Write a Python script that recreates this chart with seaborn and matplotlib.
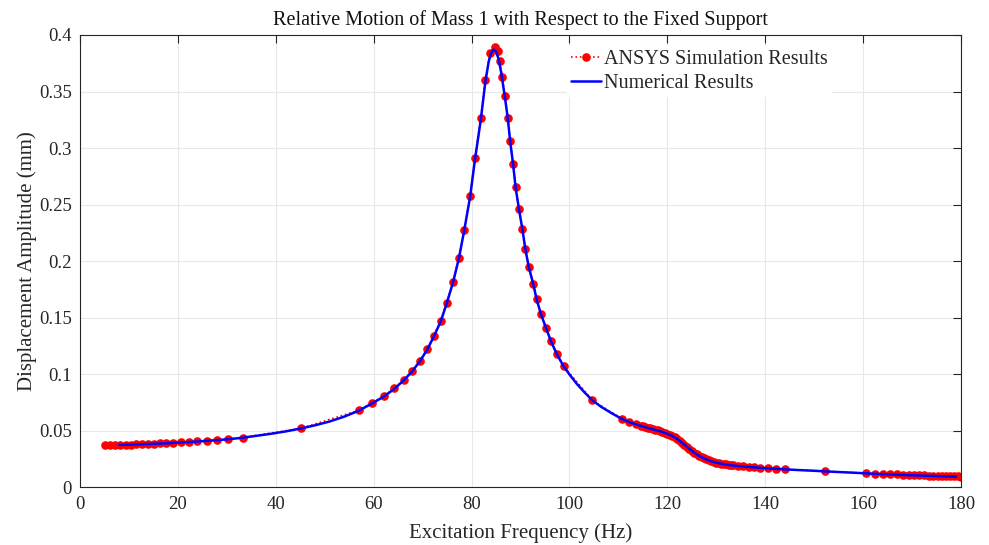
import matplotlib
matplotlib.use("Agg")
import matplotlib.pyplot as plt
import seaborn as sns
import pandas as pd

# ANSYS harmonic response of mass 1 (frequency in Hz, amplitude in mm)
ansys_freq = [
    5.1, 6.1, 7.2, 8.2, 9.3, 10.4, 11.4, 12.6, 13.8, 15.1, 16.3, 17.6, 19.1, 20.6,
    22.3, 24.0, 25.9, 27.9, 30.3, 33.2, 45.1, 56.9, 59.6, 62.1, 64.2, 66.1, 67.8,
    69.4, 70.9, 72.3, 73.7, 74.9, 76.2, 77.4, 78.5, 79.7, 80.7, 81.9, 82.8, 83.8,
    84.8, 85.3, 85.8, 86.3, 86.8, 87.4, 87.9, 88.5, 89.0, 89.7, 90.4, 91.0, 91.7,
    92.6, 93.3, 94.2, 95.2, 96.2, 97.4, 98.8, 104.7, 110.7, 112.2, 113.5, 114.6,
    115.0, 115.5, 116.0, 116.5, 117.0, 117.5, 118.0, 118.5, 119.0, 119.5, 120.0,
    120.5, 121.0, 121.5, 122.0, 122.5, 123.0, 123.5, 124.0, 124.5, 125.0, 125.5,
    126.0, 126.5, 127.0, 127.5, 128.0, 128.5, 129.0, 129.5, 130.0, 130.5, 131.0,
    131.5, 132.0, 132.5, 133.0, 133.5, 134.5, 135.5, 136.6, 137.7, 139.0, 140.5,
    142.2, 144.1, 152.3, 160.5, 162.4, 164.1, 165.5, 166.9, 168.1, 169.3, 170.4,
    171.4, 172.4, 173.4, 174.3, 175.2, 176.1, 177.0, 177.8, 178.6, 179.4, 180.0,
]
ansys_amp = [
    0.0374, 0.0374, 0.0375, 0.0376, 0.0377, 0.0378, 0.0379, 0.0381, 0.0383, 0.0385,
    0.0388, 0.0391, 0.0394, 0.0398, 0.0401, 0.0406, 0.0410, 0.0416, 0.0425, 0.0440,
    0.0521, 0.0680, 0.0745, 0.0807, 0.0875, 0.0948, 0.1027, 0.1118, 0.1219, 0.1341,
    0.1472, 0.1630, 0.1814, 0.2028, 0.2279, 0.2576, 0.2912, 0.3269, 0.3604, 0.3837,
    0.3898, 0.3857, 0.3766, 0.3625, 0.3457, 0.3266, 0.3060, 0.2859, 0.2656, 0.2461,
    0.2282, 0.2108, 0.1949, 0.1802, 0.1663, 0.1531, 0.1413, 0.1296, 0.1181, 0.1072,
    0.0769, 0.0606, 0.0577, 0.0559, 0.0545, 0.0540, 0.0533, 0.0526, 0.0520, 0.0514,
    0.0508, 0.0503, 0.0497, 0.0490, 0.0483, 0.0474, 0.0465, 0.0455, 0.0443, 0.0429,
    0.0413, 0.0396, 0.0378, 0.0360, 0.0342, 0.0324, 0.0307, 0.0292, 0.0278, 0.0266,
    0.0255, 0.0246, 0.0238, 0.0231, 0.0225, 0.0219, 0.0214, 0.0210, 0.0206, 0.0202,
    0.0199, 0.0196, 0.0193, 0.0189, 0.0185, 0.0181, 0.0177, 0.0173, 0.0169, 0.0164,
    0.0159, 0.0142, 0.0125, 0.0121, 0.0118, 0.0116, 0.0114, 0.0112, 0.0110, 0.0108,
    0.0106, 0.0105, 0.0103, 0.0102, 0.0101, 0.0100, 0.0099, 0.0098, 0.0097, 0.0096,
    0.0095,
]

# Numerical (analytical model) response of mass 1
num_freq = [
    8.0, 10.0, 12.0, 14.0, 16.0, 18.0, 20.0, 22.0, 24.0, 26.0, 28.0, 30.0, 33.0,
    36.0, 39.0, 42.0, 45.0, 48.0, 51.0, 54.0, 57.0, 59.6, 62.1, 64.2, 66.1, 67.8,
    69.4, 70.9, 72.3, 73.7, 74.9, 76.2, 77.4, 78.5, 79.7, 80.7, 81.9, 82.8, 83.5,
    84.0, 84.5, 85.0, 85.5, 86.0, 86.8, 87.4, 87.9, 88.5, 89.0, 89.7, 90.4, 91.0,
    91.7, 92.6, 93.3, 94.2, 95.2, 96.2, 97.4, 98.8, 100.0, 101.5, 103.0, 104.7,
    106.5, 108.5, 110.7, 112.2, 113.5, 115.0, 116.0, 117.0, 118.0, 119.0, 120.0,
    121.0, 122.0, 123.0, 124.0, 125.0, 126.0, 127.0, 128.0, 129.0, 130.0, 131.0,
    132.0, 133.0, 134.5, 136.6, 139.0, 142.2, 146.0, 150.0, 154.0, 158.0, 162.0,
    166.0, 170.0, 174.0, 177.0, 179.0,
]
num_amp = [
    0.0375, 0.0377, 0.0380, 0.0383, 0.0386, 0.0390, 0.0395, 0.0400, 0.0405, 0.0411,
    0.0417, 0.0424, 0.0437, 0.0455, 0.0473, 0.0494, 0.0519, 0.0548, 0.0582, 0.0625,
    0.0678, 0.0740, 0.0803, 0.0870, 0.0944, 0.1022, 0.1112, 0.1214, 0.1334, 0.1467,
    0.1624, 0.1810, 0.2022, 0.2272, 0.2568, 0.2900, 0.3255, 0.3580, 0.3765, 0.3840,
    0.3872, 0.3855, 0.3790, 0.3680, 0.3455, 0.3262, 0.3055, 0.2852, 0.2650, 0.2456,
    0.2278, 0.2104, 0.1945, 0.1798, 0.1660, 0.1528, 0.1410, 0.1294, 0.1179, 0.1070,
    0.0998, 0.0915, 0.0843, 0.0768, 0.0711, 0.0658, 0.0605, 0.0576, 0.0558, 0.0538,
    0.0525, 0.0513, 0.0502, 0.0489, 0.0473, 0.0454, 0.0428, 0.0395, 0.0359, 0.0323,
    0.0291, 0.0265, 0.0245, 0.0230, 0.0218, 0.0209, 0.0201, 0.0195, 0.0188, 0.0180,
    0.0172, 0.0163, 0.0154, 0.0146, 0.0137, 0.0129, 0.0120, 0.0113, 0.0106, 0.0101,
    0.0097, 0.0094,
]

x_ticks = [0, 20, 40, 60, 80, 100, 120, 140, 160, 180]
y_ticks = [0, 0.05, 0.1, 0.15, 0.2, 0.25, 0.3, 0.35, 0.4]
y_tick_labels = ["0", "0.05", "0.1", "0.15", "0.2", "0.25", "0.3", "0.35", "0.4"]

ansys_df = pd.DataFrame({"freq": ansys_freq, "amp": ansys_amp})
num_df = pd.DataFrame({"freq": num_freq, "amp": num_amp})

sns.set_style("white")
plt.rcParams["font.family"] = ["Liberation Serif", "DejaVu Serif"]
plt.rcParams["mathtext.fontset"] = "stix"

fig = plt.figure(figsize=(9.89, 5.45), dpi=100)
ax = fig.add_axes([0.0809, 0.1059, 0.8908, 0.8299])

sns.lineplot(data=ansys_df, x="freq", y="amp", ax=ax, color="red",
             linestyle=":", linewidth=1.2, marker="o", markersize=6.2,
             markeredgewidth=0, label="ANSYS Simulation Results",
             estimator=None, sort=False)
sns.lineplot(data=num_df, x="freq", y="amp", ax=ax, color="#0000ff",
             linewidth=1.8, label="Numerical Results",
             estimator=None, sort=False)

ax.set_xlim(0, 180)
ax.set_ylim(0, 0.4)
ax.set_xticks(x_ticks)
ax.set_yticks(y_ticks)
ax.set_yticklabels(y_tick_labels)
ax.tick_params(axis="both", which="both", direction="in", top=True, right=True,
               length=6, width=0.8, labelsize=13.5, colors="#262626",
               labelcolor="#262626", pad=6)
ax.grid(True, color="#e8e8e8", linewidth=0.8)
ax.set_axisbelow(True)
for side in ax.spines.values():
    side.set_color("#262626")
    side.set_linewidth(0.8)

ax.set_xlabel("Excitation Frequency (Hz)", fontsize=15, color="#262626", labelpad=8)
ax.set_ylabel("Displacement Amplitude (mm)", fontsize=15, color="#262626", labelpad=1)
ax.set_title("Relative Motion of Mass 1 with Respect to the Fixed Support",
             fontsize=14.5, color="#111111", pad=7)

leg = ax.legend(loc="upper left", bbox_to_anchor=(0.553, 0.975), fontsize=14.5,
                frameon=True, framealpha=1, edgecolor="none", facecolor="white",
                fancybox=False, handlelength=1.5, handletextpad=0.15,
                borderpad=0.2, labelspacing=0.22, borderaxespad=0)

fig.savefig("out.png", dpi=100)
